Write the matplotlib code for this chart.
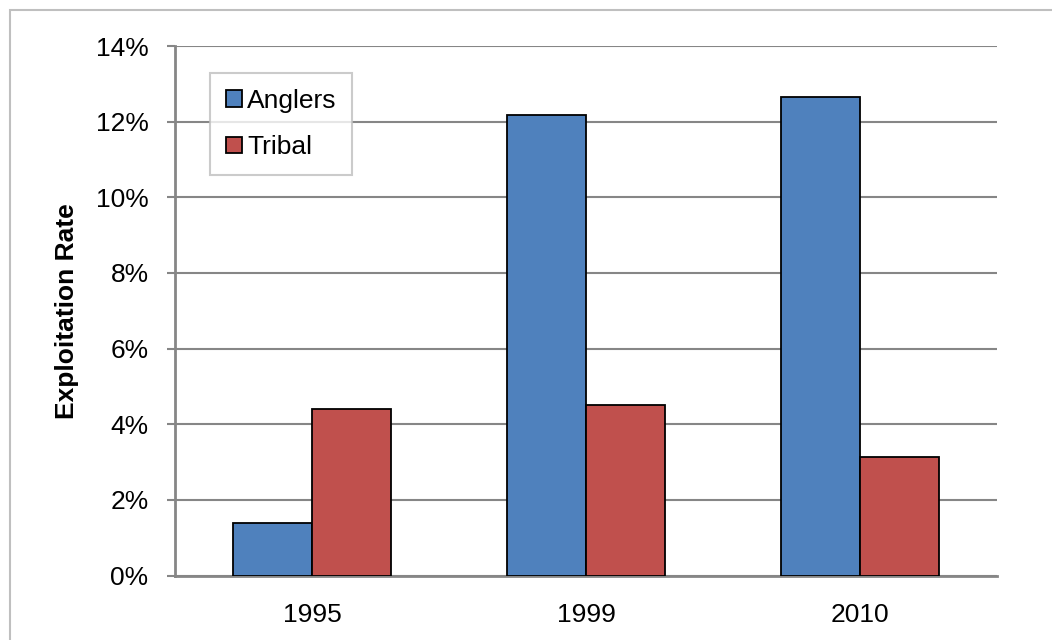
import numpy as np
import matplotlib.pyplot as plt
from matplotlib.patches import Rectangle
from matplotlib.ticker import FuncFormatter

plt.rcParams['font.family'] = ['Liberation Sans', 'DejaVu Sans']

# Exploitation rates (%) by year
years = ['1995', '1999', '2010']
anglers = [1.39, 12.17, 12.64]
tribal = [4.40, 4.50, 3.12]

BLUE = '#4F81BD'
RED = '#C0504D'
GRID = '#868686'

fig = plt.figure(figsize=(10.52, 6.4), dpi=100)
W, H = 1052, 640
ax = fig.add_axes([175 / W, 1 - 575.5 / H, (997 - 175) / W, (575.5 - 46) / H])

# outer chart frame
fig.patches.append(Rectangle((10 / W, -0.1), 1.2, 1 - 10 / H + 0.1,
                             transform=fig.transFigure, fill=False,
                             edgecolor='#BFBFBF', linewidth=1.5))

x = np.arange(len(years))
width = 0.288
ax.bar(x - width / 2, anglers, width, color=BLUE, edgecolor='black',
       linewidth=1.3, label='Anglers', zorder=3)
ax.bar(x + width / 2, tribal, width, color=RED, edgecolor='black',
       linewidth=1.3, label='Tribal', zorder=3)

ax.set_xlim(-0.5, 2.5)
ax.set_ylim(0, 14)
ax.set_yticks(np.arange(0, 15, 2))
ax.yaxis.set_major_formatter(FuncFormatter(lambda v, p: f'{v:.0f}%'))
ax.set_xticks(x)
ax.set_xticklabels(years)

ax.grid(axis='y', color=GRID, linewidth=1.5, zorder=0)
for side in ['top', 'right']:
    ax.spines[side].set_visible(False)
for side in ['left', 'bottom']:
    ax.spines[side].set_color(GRID)
    ax.spines[side].set_linewidth(2)

ax.tick_params(axis='y', length=6, width=1.5, color=GRID, labelsize=19, pad=13)
ax.tick_params(axis='x', length=0, labelsize=19, pad=20)
ax.set_ylabel('Exploitation Rate', fontsize=19, fontweight='bold', labelpad=12)

leg = ax.legend(loc='upper left', bbox_to_anchor=(35 / 822, 1 - 27 / 529.5),
                fontsize=19, frameon=True, fancybox=False, handlelength=0.6,
                handleheight=0.6, handletextpad=0.2, labelspacing=0.85,
                borderpad=0.6, borderaxespad=0)
leg.get_frame().set_edgecolor('#BFBFBF')
leg.get_frame().set_linewidth(1.5)

fig.savefig('out.png', dpi=100)
